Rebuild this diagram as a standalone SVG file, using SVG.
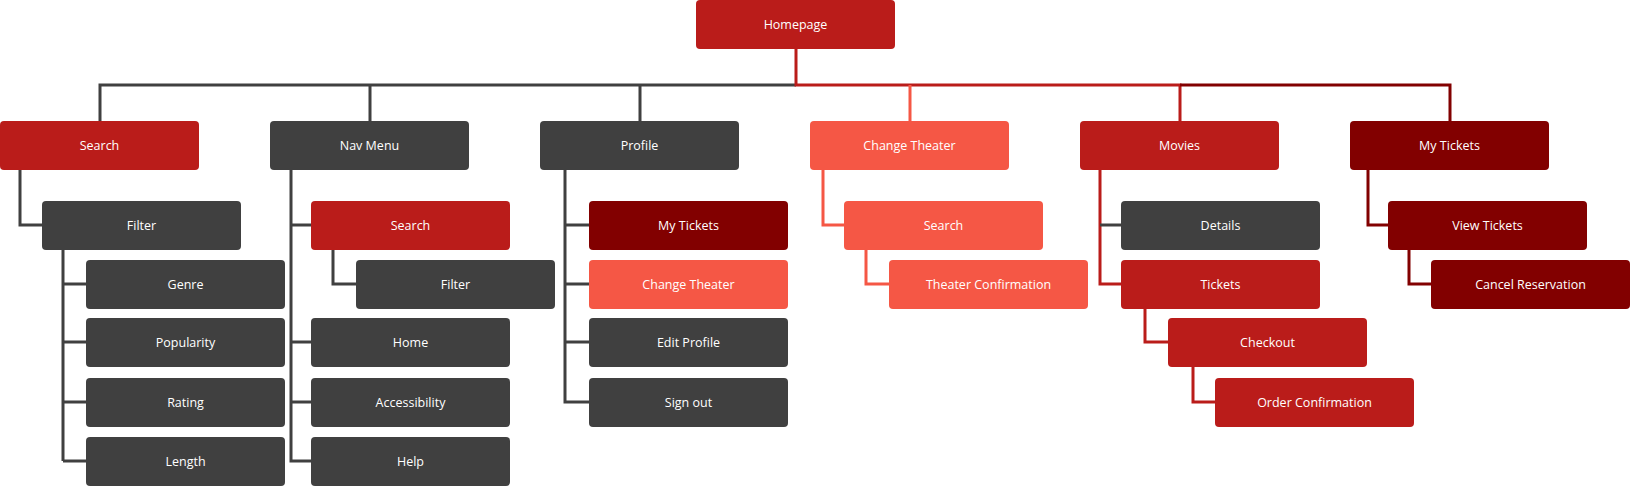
<svg xmlns="http://www.w3.org/2000/svg" width="1631" height="487" viewBox="0 0 1631 487">
<style>
.n rect{rx:4;ry:4}
.red rect{fill:#BA1C1A}.gray rect{fill:#404040}.coral rect{fill:#F55745}.dk rect{fill:#820000}
text{font-family:"Open Sans","Liberation Sans",sans-serif;font-size:12.5px;fill:#fff;text-anchor:middle;dominant-baseline:central}
.c path{fill:none;stroke-width:3}
.cg{stroke:#404040}.cr{stroke:#BA1C1A}.cc{stroke:#F55745}.cd{stroke:#820000}
</style>
<g class="c" id="connectors">
<path class="cg" d="M796 85H100V121M370 85V121M640 85V121"/>
<path class="cr" d="M796 49V85H1180V121"/>
<path class="cc" d="M910 85V121"/>
<path class="cd" d="M1180 85H1450V121"/>
<path class="cg" d="M20 170V225H42M63 250V461M63 284H86M63 342H86M63 402H86M63 461H86"/>
<path class="cg" d="M291 170V461H311M291 225H311M291 342H311M291 402H311"/>
<path class="cg" d="M333 250V284H356"/>
<path class="cg" d="M565 170V402H589M565 225H589M565 284H589M565 342H589"/>
<path class="cc" d="M823 170V225H844M866 250V284H889"/>
<path class="cr" d="M1100 170V284H1121"/>
<path class="cg" d="M1100 225H1121"/>
<path class="cr" d="M1145 309V342H1168M1193 367V402H1215"/>
<path class="cd" d="M1368 170V225H1388M1409 250V284H1431"/>
</g>
<g id="homepage" class="n red"><rect x="696" y="0" width="199" height="49"/><text x="795.5" y="24.5">Homepage</text></g>
<g id="search" class="n red"><rect x="0" y="121" width="199" height="49"/><text x="99.5" y="145.5">Search</text></g>
<g id="navmenu" class="n gray"><rect x="270" y="121" width="199" height="49"/><text x="369.5" y="145.5">Nav Menu</text></g>
<g id="profile" class="n gray"><rect x="540" y="121" width="199" height="49"/><text x="639.5" y="145.5">Profile</text></g>
<g id="changetheater" class="n coral"><rect x="810" y="121" width="199" height="49"/><text x="909.5" y="145.5">Change Theater</text></g>
<g id="movies" class="n red"><rect x="1080" y="121" width="199" height="49"/><text x="1179.5" y="145.5">Movies</text></g>
<g id="mytickets" class="n dk"><rect x="1350" y="121" width="199" height="49"/><text x="1449.5" y="145.5">My Tickets</text></g>
<g id="filter" class="n gray"><rect x="42" y="201" width="199" height="49"/><text x="141.5" y="225.5">Filter</text></g>
<g id="genre" class="n gray"><rect x="86" y="260" width="199" height="49"/><text x="185.5" y="284.5">Genre</text></g>
<g id="popularity" class="n gray"><rect x="86" y="318" width="199" height="49"/><text x="185.5" y="342.5">Popularity</text></g>
<g id="rating" class="n gray"><rect x="86" y="378" width="199" height="49"/><text x="185.5" y="402.5">Rating</text></g>
<g id="length" class="n gray"><rect x="86" y="437" width="199" height="49"/><text x="185.5" y="461.5">Length</text></g>
<g id="nav-search" class="n red"><rect x="311" y="201" width="199" height="49"/><text x="410.5" y="225.5">Search</text></g>
<g id="nav-filter" class="n gray"><rect x="356" y="260" width="199" height="49"/><text x="455.5" y="284.5">Filter</text></g>
<g id="home" class="n gray"><rect x="311" y="318" width="199" height="49"/><text x="410.5" y="342.5">Home</text></g>
<g id="access" class="n gray"><rect x="311" y="378" width="199" height="49"/><text x="410.5" y="402.5">Accessibility</text></g>
<g id="help" class="n gray"><rect x="311" y="437" width="199" height="49"/><text x="410.5" y="461.5">Help</text></g>
<g id="p-mytickets" class="n dk"><rect x="589" y="201" width="199" height="49"/><text x="688.5" y="225.5">My Tickets</text></g>
<g id="p-change" class="n coral"><rect x="589" y="260" width="199" height="49"/><text x="688.5" y="284.5">Change Theater</text></g>
<g id="editprofile" class="n gray"><rect x="589" y="318" width="199" height="49"/><text x="688.5" y="342.5">Edit Profile</text></g>
<g id="signout" class="n gray"><rect x="589" y="378" width="199" height="49"/><text x="688.5" y="402.5">Sign out</text></g>
<g id="ct-search" class="n coral"><rect x="844" y="201" width="199" height="49"/><text x="943.5" y="225.5">Search</text></g>
<g id="theaterconf" class="n coral"><rect x="889" y="260" width="199" height="49"/><text x="988.5" y="284.5">Theater Confirmation</text></g>
<g id="details" class="n gray"><rect x="1121" y="201" width="199" height="49"/><text x="1220.5" y="225.5">Details</text></g>
<g id="tickets" class="n red"><rect x="1121" y="260" width="199" height="49"/><text x="1220.5" y="284.5">Tickets</text></g>
<g id="checkout" class="n red"><rect x="1168" y="318" width="199" height="49"/><text x="1267.5" y="342.5">Checkout</text></g>
<g id="orderconf" class="n red"><rect x="1215" y="378" width="199" height="49"/><text x="1314.5" y="402.5">Order Confirmation</text></g>
<g id="viewtickets" class="n dk"><rect x="1388" y="201" width="199" height="49"/><text x="1487.5" y="225.5">View Tickets</text></g>
<g id="cancel" class="n dk"><rect x="1431" y="260" width="199" height="49"/><text x="1530.5" y="284.5">Cancel Reservation</text></g>
</svg>
